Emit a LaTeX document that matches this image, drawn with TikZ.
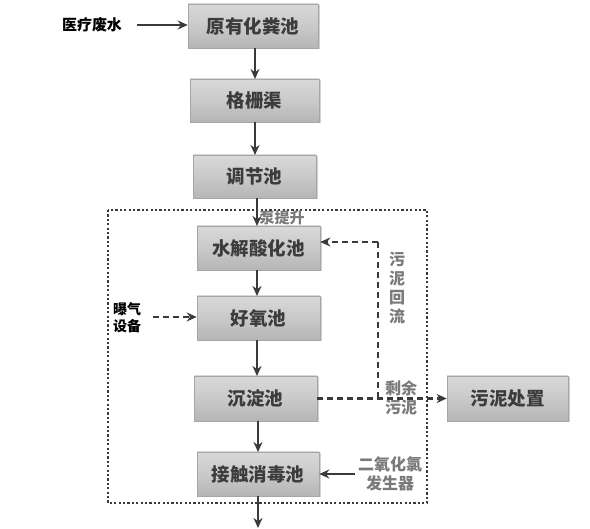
\documentclass[tikz,border=0pt]{standalone}
\usepackage{fontspec}
\setmainfont{Noto Sans CJK SC}
\usetikzlibrary{arrows.meta,shadows}
\definecolor{boxtext}{HTML}{3C3C3C}
\definecolor{linecol}{HTML}{3A3A3A}
\definecolor{labgray}{HTML}{7A7A7A}
\begin{document}
\begin{tikzpicture}[x=1pt,y=1pt,
  procbox/.style={draw=gray!70, line width=0.6pt, top color=gray!30, bottom color=gray!58, middle color=gray!42,
    minimum width=123pt, minimum height=44pt, inner sep=0pt, text=boxtext,
    font=\fontsize{18.5}{20}\selectfont\bfseries,
    drop shadow={opacity=0.35, shadow xshift=1.5pt, shadow yshift=-1.5pt}},
  flow/.style={draw=linecol, line width=2.2pt, -{Stealth[length=10pt,width=9pt]}},
  dflow/.style={draw=linecol, line width=2.2pt, dash pattern=on 6pt off 4pt, -{Stealth[length=10pt,width=9pt]}},
  dline/.style={draw=linecol, line width=2.2pt, dash pattern=on 6pt off 4pt},
  blacklab/.style={text=black, font=\fontsize{15}{17}\selectfont\bfseries, align=center, inner sep=0pt},
  graylab/.style={text=labgray, font=\fontsize{16}{19}\selectfont\bfseries, align=center, inner sep=0pt}
]
\path[fill=white] (0,0) rectangle (590,-529);
\useasboundingbox (0,0) rectangle (590,-529);

% dotted frame
\coordinate (fa) at (108,-210);
\coordinate (fb) at (427,-503);
\draw[linecol, line width=2.2pt, dash pattern=on 2.2pt off 2.2pt] (fa) rectangle (fb);

% boxes
\node[procbox, minimum width=130pt] (n1) at (253,-26) {原有化粪池};
\node[procbox, minimum width=129pt, minimum height=43pt] (n2) at (254.5,-100.5) {格栅渠};
\node[procbox, minimum height=43pt] (n3) at (254.5,-176.5) {调节池};
\node[procbox] (n4) at (258.5,-248) {水解酸化池};
\node[procbox] (n5) at (258.5,-318) {好氧池};
\node[procbox, minimum height=45pt] (n6) at (255.5,-398.5) {沉淀池};
\node[procbox, minimum width=122pt] (n7) at (258,-474) {接触消毒池};
\node[procbox, minimum width=121pt, minimum height=45pt] (n8) at (507.5,-398.5) {污泥处置};

% labels
\node[blacklab] (in) at (92,-25) {医疗废水};
\node[blacklab, font=\fontsize{14}{17}\selectfont\bfseries] (aer) at (127,-318) {曝气\\设备};
\node[graylab, font=\fontsize{15}{17}\selectfont\bfseries] (pump) at (282,-218) {泵提升};
\node[graylab] (ret) at (397,-288) {污\\泥\\回\\流};
\node[graylab] (exc) at (401,-398) {剩余\\污泥};
\node[graylab] (clo) at (390,-474) {二氧化氯\\发生器};

% main flow
\coordinate (inA) at (137,-25);
\draw[flow] (inA) -- (inA -| n1.west);
\coordinate (a1) at (255,-48);  \coordinate (b1) at (255,-79);
\coordinate (a2) at (255,-122); \coordinate (b2) at (255,-155);
\coordinate (a3) at (257,-198); \coordinate (b3) at (257,-226);
\coordinate (a4) at (257,-270); \coordinate (b4) at (257,-296);
\coordinate (a5) at (257,-340); \coordinate (b5) at (257,-376);
\coordinate (a6) at (258,-421); \coordinate (b6) at (258,-452);
\coordinate (a7) at (258,-496); \coordinate (out) at (258,-528);
\draw[flow] (a1) -- (b1);
\draw[flow] (a2) -- (b2);
\draw[flow] (a3) -- (b3);
\draw[flow] (a4) -- (b4);
\draw[flow] (a5) -- (b5);
\draw[flow] (a6) -- (b6);
\draw[flow] (a7) -- (out);

% aeration
\coordinate (aerA) at (153,-317);
\draw[dflow] (aerA) -- (aerA -| n5.west);

% sludge
\draw[dflow] (n6.east) -- (n8.west);
\coordinate (r1) at (378,-398);
\coordinate (r2) at (378,-242);
\draw[dline] (r1) -- (r2);
\draw[dflow] (r2) -- (r2 -| n4.east);

% chlorine dioxide
\coordinate (cloA) at (355,-474);
\draw[flow] (cloA) -- (n7.east);
\end{tikzpicture}
\end{document}
